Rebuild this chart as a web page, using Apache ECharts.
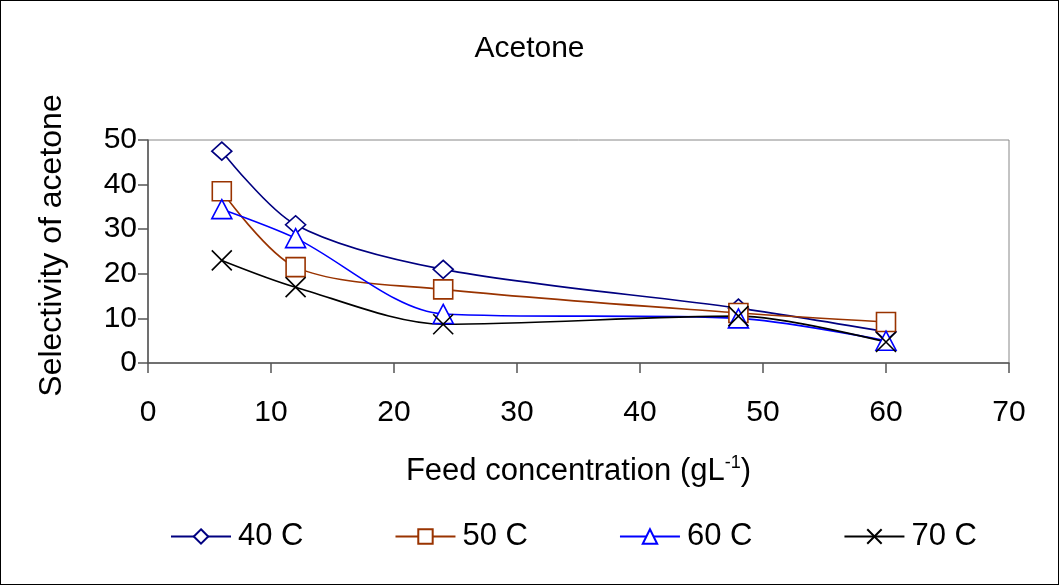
<!DOCTYPE html>
<html><head><meta charset="utf-8">
<script src="https://cdn.jsdelivr.net/npm/echarts@6/dist/echarts.min.js"></script>
<style>
html,body{margin:0;padding:0;background:#fff;}
#c{width:1059px;height:585px;box-sizing:border-box;border:1px solid #000;}
</style></head>
<body><div id="c"></div>
<script>
const xValues = [6, 12, 24, 48, 60];
const s40 = [47.5, 31, 21, 12.3, 7];
const s50 = [38.5, 21.5, 16.5, 11.2, 9.2];
const s60 = [34.5, 28, 11, 10, 5];
const s70 = [23, 17, 8.7, 10.5, 4.7];
const seriesNames = ['40 C', '50 C', '60 C', '70 C'];

const font = 'Liberation Sans, Arial, sans-serif';
function pairs(ys){ return xValues.map((x,i)=>[x, ys[i]]); }
function mk(name, ys, color, symbol, size){
  return {
    name, type:'line', data: pairs(ys), smooth:0.3,
    symbol, symbolSize:size,
    lineStyle:{color, width:1.6},
    itemStyle:{color:'#fff', borderColor:color, borderWidth:1.6},
    emphasis:{disabled:true}
  };
}
const chart = echarts.init(document.getElementById('c'));
chart.setOption({
  animation:false,
  title:{text:'Acetone', left:'center', top:28, textStyle:{fontFamily:font, fontSize:30, fontWeight:'normal', color:'#000'}},
  grid:{left:147, right:49, top:139, bottom:221, show:true, borderColor:'#888', borderWidth:1},
  legend:{top:515, left:164, itemWidth:60, itemHeight:18, itemGap:91,
    data:seriesNames,
    textStyle:{fontFamily:font, fontSize:31, color:'#000', padding:[0,0,0,2]}},
  xAxis:{type:'value', min:0, max:70, interval:10,
    name:'Feed concentration (gL{sup|-1})', nameLocation:'middle', nameGap:91,
    nameTextStyle:{fontFamily:font, fontSize:31, color:'#000', rich:{sup:{fontFamily:font, fontSize:18, color:'#000', verticalAlign:'top', padding:[0,0,17,0]}}},
    axisLine:{lineStyle:{color:'#555', width:1.5}},
    axisTick:{inside:false, length:10, lineStyle:{color:'#555', width:1.5}},
    axisLabel:{fontFamily:font, fontSize:30, color:'#000', margin:35},
    splitLine:{show:false}},
  yAxis:{type:'value', min:0, max:50, interval:10,
    name:'Selectivity of acetone', nameLocation:'middle', nameGap:80,
    nameTextStyle:{fontFamily:font, fontSize:32, color:'#000', padding:[0,0,0,12]},
    axisLine:{show:true, lineStyle:{color:'#555', width:1.5}},
    axisTick:{show:true, length:10, lineStyle:{color:'#555', width:1.5}},
    axisLabel:{fontFamily:font, fontSize:30, color:'#000', margin:11},
    splitLine:{show:false}},
  series:[
    mk('40 C', s40, '#000080', 'diamond', [20,18]),
    mk('50 C', s50, '#993300', 'rect', 19),
    mk('60 C', s60, '#0000ff', 'triangle', [20,19]),
    mk('70 C', s70, '#000', 'path://M0,0L10,10M10,0L0,10', 20)
  ]
});
</script></body></html>
